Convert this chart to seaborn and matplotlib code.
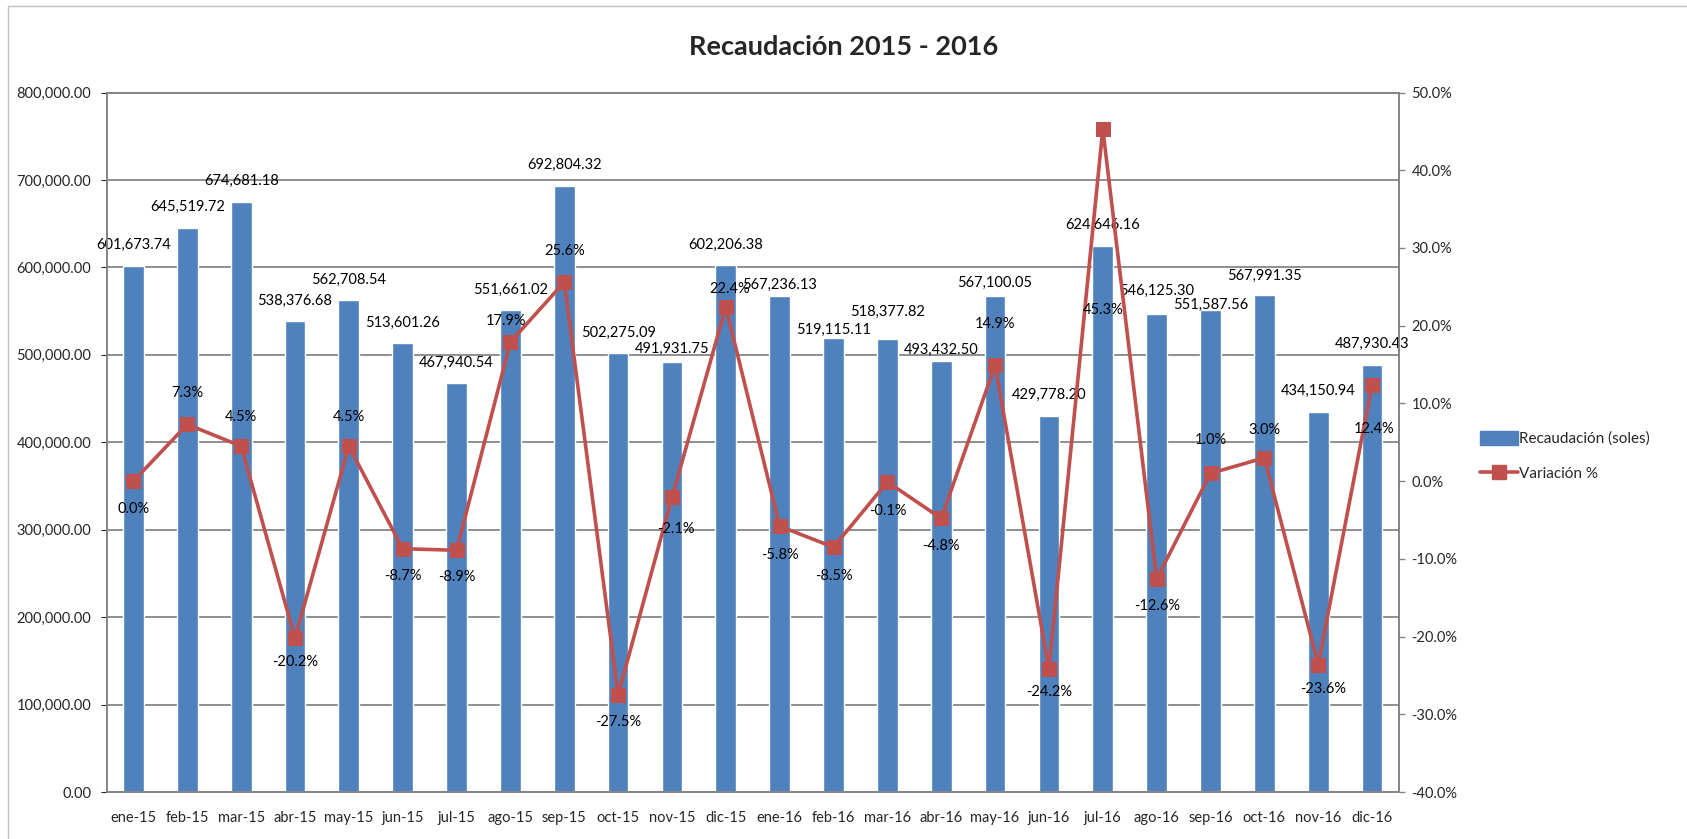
import pandas as pd
import seaborn as sns
import numpy as np
import matplotlib.pyplot as plt
from matplotlib.patches import Patch
from matplotlib.lines import Line2D
from matplotlib.ticker import FuncFormatter, MultipleLocator

# Datos
meses = ['ene-15', 'feb-15', 'mar-15', 'abr-15', 'may-15', 'jun-15', 'jul-15', 'ago-15',
         'sep-15', 'oct-15', 'nov-15', 'dic-15', 'ene-16', 'feb-16', 'mar-16', 'abr-16',
         'may-16', 'jun-16', 'jul-16', 'ago-16', 'sep-16', 'oct-16', 'nov-16', 'dic-16']
recaudacion = [601673.74, 645519.72, 674681.18, 538376.68, 562708.54, 513601.26, 467940.54, 551661.02,
               692804.32, 502275.09, 491931.75, 602206.38, 567236.13, 519115.11, 518377.82, 493432.50,
               567100.05, 429778.20, 624646.16, 546125.30, 551587.56, 567991.35, 434150.94, 487930.43]
variacion = [0.0, 7.3, 4.5, -20.2, 4.5, -8.7, -8.9, 17.9,
             25.6, -27.5, -2.1, 22.4, -5.8, -8.5, -0.1, -4.8,
             14.9, -24.2, 45.3, -12.6, 1.0, 3.0, -23.6, 12.4]

# desplazamiento de etiquetas (pixeles), como en el grafico de Excel
off_barras = [21, 21, 21, 20, 20, 20, 20, 20, 21, 20, 13, 21, 11, 8, 27, 11, 13, 21, 21, 24, 5, 19, 21, 21]
off_var = [-28, 31, 29, -24, 29, -27, -27, 21, 31, -27, -32, 18, -29, -29, -29, -28,
           41, -23, -181, -27, 33, 28, -24, -44]
off_var_x = [0, 0, 0, 0, 0, 0, 0, -4, 0, 0, 4, 4, 0, 0, 0, 0, 0, 0, 0, 0, 0, 0, 5, 2]

df = pd.DataFrame({'mes': meses, 'recaudacion': recaudacion, 'variacion': variacion})

sns.set_style('white')
plt.rcParams['font.family'] = ['Lato', 'DejaVu Sans']

azul = '#4F81BD'
rojo = '#C0504D'
gris = '#868686'

fig = plt.figure(figsize=(16.87, 8.39), dpi=100)
ax = fig.add_axes([106.5 / 1687, 1 - 792 / 839, (1399 - 106.5) / 1687, (792 - 92.5) / 839])

sns.barplot(x='mes', y='recaudacion', data=df, color=azul, saturation=1, width=0.385, ax=ax, zorder=2)
ax.set_ylim(0, 800000)
ax.set_xlim(-0.5, len(meses) - 0.5)
ax.yaxis.set_major_locator(MultipleLocator(100000))
ax.yaxis.set_major_formatter(FuncFormatter(lambda v, p: f'{v:,.2f}'))
ax.grid(axis='y', color=gris, linewidth=1.3)
ax.set_axisbelow(True)
ax.set_xlabel('')
ax.set_ylabel('')
ax.tick_params(axis='y', left=False, length=4, pad=7, labelsize=10.5)
ax.tick_params(axis='x', bottom=False, pad=10, labelsize=10.5)

for i, v in enumerate(recaudacion):
    ax.annotate(f'{v:,.2f}', (i, v), xytext=(0, off_barras[i]), textcoords='offset pixels',
                ha='center', va='center', fontsize=10.5, color='black', zorder=5)

ax2 = ax.twinx()
sns.lineplot(x='mes', y='variacion', data=df, sort=False, color=rojo, linewidth=2.6,
             marker='s', markersize=10, markeredgecolor=rojo, ax=ax2)
ax2.set_ylim(-40, 50)
ax2.yaxis.set_major_locator(MultipleLocator(10))
ax2.yaxis.set_major_formatter(FuncFormatter(lambda v, p: f'{v:.1f}%'))
ax2.set_ylabel('')
ax2.tick_params(axis='y', right=True, length=4, width=1, color=gris, pad=5, labelsize=10.5)
ax2.set_xlim(-0.5, len(meses) - 0.5)

for i, v in enumerate(variacion):
    ax2.annotate(f'{v:.1f}%', (i, v), xytext=(off_var_x[i], off_var[i]), textcoords='offset pixels',
                 ha='center', va='center', fontsize=10.5, color='black', zorder=5)

for a in (ax, ax2):
    for s in a.spines.values():
        s.set_color(gris)
        s.set_linewidth(1.3)

handles = [Patch(facecolor=azul, edgecolor=azul),
           Line2D([], [], color=rojo, linewidth=2.6, marker='s', markersize=10)]
ax2.legend(handles, ['Recaudación (soles)', 'Variación %'], loc='center left',
           bbox_to_anchor=(1472 / 1687, 1 - 456 / 839), bbox_transform=fig.transFigure,
           frameon=False, fontsize=11, handlelength=2.5, handleheight=1.0,
           handletextpad=0.1, labelspacing=1.3, borderpad=0)

fig.text(0.5, 1 - 46.7 / 839, 'Recaudación 2015 - 2016', ha='center', va='center',
         fontsize=19.5, fontweight='bold')

# borde del area del grafico
fig.add_artist(Line2D([8 / 1687, 8 / 1687], [0, 1 - 6 / 839], transform=fig.transFigure, color='#BFBFBF', linewidth=1))
fig.add_artist(Line2D([8 / 1687, 1], [1 - 6 / 839, 1 - 6 / 839], transform=fig.transFigure, color='#BFBFBF', linewidth=1))

fig.savefig('out.png', dpi=100)
